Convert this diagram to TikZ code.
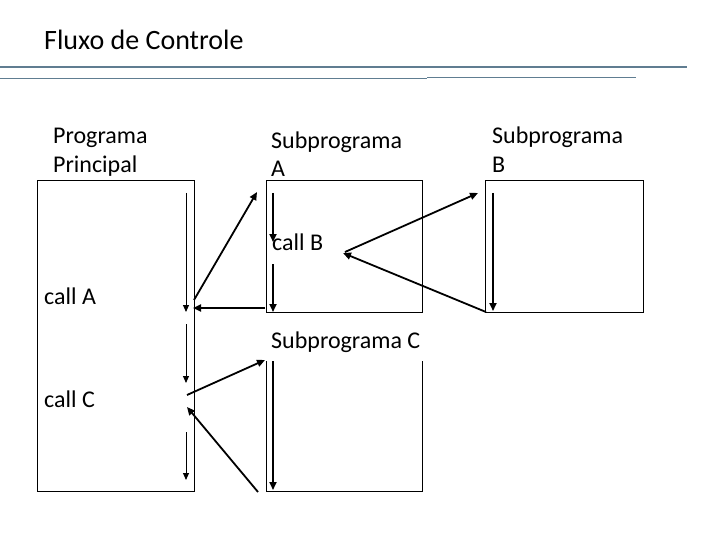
\documentclass[tikz,border=0pt]{standalone}
\usepackage{fontspec}
\setmainfont{Carlito}
\usetikzlibrary{arrows.meta}
\definecolor{rulecol}{RGB}{96,125,145}
\begin{document}
\begin{tikzpicture}[x=1pt,y=-1pt,
  lbl/.style={anchor=base west,inner sep=0pt,font=\fontsize{24}{29}\selectfont},
  ttl/.style={anchor=base west,inner sep=0pt,font=\fontsize{28}{34}\selectfont},
  boxline/.style={draw=black,line width=1pt},
  thin/.style={line width=1pt,-{Triangle[length=7pt,width=6pt]}},
  thick/.style={line width=1.8pt,-{Triangle[length=8pt,width=7pt]}},
  rulel/.style={draw=rulecol,line width=1.2pt}]
\useasboundingbox (0,0) rectangle (720,540);
% header
\node[ttl] (title) at (44,50) {Fluxo de Controle};
\coordinate (r1a) at (0,67); \coordinate (r1b) at (687,67);
\coordinate (r2a) at (0,78.5); \coordinate (r2b) at (427,78.5);
\coordinate (r3a) at (427,77.5); \coordinate (r3b) at (636,77.5);
\draw[rulel] (r1a) -- (r1b);
\draw[rulel] (r2a) -- (r2b);
\draw[rulel] (r3a) -- (r3b);
% boxes
\draw[boxline] (37,181) rectangle (194,491);
\draw[boxline] (266,181) rectangle (422,312);
\draw[boxline] (485,181) rectangle (643,312);
\draw[boxline] (266,361) -- (266,491) -- (422,491) -- (422,361);
% labels
\node[lbl] (pp1) at (53,144) {Programa};
\node[lbl] (pp2) at (53,173) {Principal};
\node[lbl] (sa1) at (271,149) {Subprograma};
\node[lbl] (sa2) at (271,177) {A};
\node[lbl] (sb1) at (492,144) {Subprograma};
\node[lbl] (sb2) at (492,173) {B};
\node[lbl] (cb) at (272,251) {call B};
\node[lbl] (ca) at (44,304) {call A};
\node[lbl] (sc) at (271,348) {Subprograma C};
\node[lbl] (cc) at (44,407) {call C};
% coordinates
\coordinate (m1s) at (186,193); \coordinate (m1e) at (186,312);
\coordinate (m2s) at (186,324); \coordinate (m2e) at (186,383);
\coordinate (m3s) at (186,432); \coordinate (m3e) at (186,480);
\coordinate (cao) at (194,300); \coordinate (atop) at (257,192);
\coordinate (aret) at (265,308); \coordinate (mret) at (193,308);
\coordinate (a1s) at (273,193); \coordinate (a1e) at (273,242);
\coordinate (a2s) at (273,264); \coordinate (a2e) at (273,312);
\coordinate (cbo) at (345,252); \coordinate (btop) at (478,193);
\coordinate (bret) at (486,312); \coordinate (cbr) at (343,253);
\coordinate (b1s) at (493,193); \coordinate (b1e) at (493,311);
\coordinate (cco) at (187,395); \coordinate (ctop) at (265,360);
\coordinate (cret) at (258,492); \coordinate (ccr) at (187,407);
\coordinate (c1s) at (273,361); \coordinate (c1e) at (273,490);
% arrows
\draw[thin] (m1s) -- (m1e);
\draw[thin] (m2s) -- (m2e);
\draw[thin] (m3s) -- (m3e);
\draw[thick] (cao) -- (atop);
\draw[thick] (aret) -- (mret);
\draw[thick] (a1s) -- (a1e);
\draw[thick] (a2s) -- (a2e);
\draw[thick] (cbo) -- (btop);
\draw[thick] (bret) -- (cbr);
\draw[thick] (b1s) -- (b1e);
\draw[thick] (cco) -- (ctop);
\draw[thick] (cret) -- (ccr);
\draw[thick] (c1s) -- (c1e);
\end{tikzpicture}
\end{document}
